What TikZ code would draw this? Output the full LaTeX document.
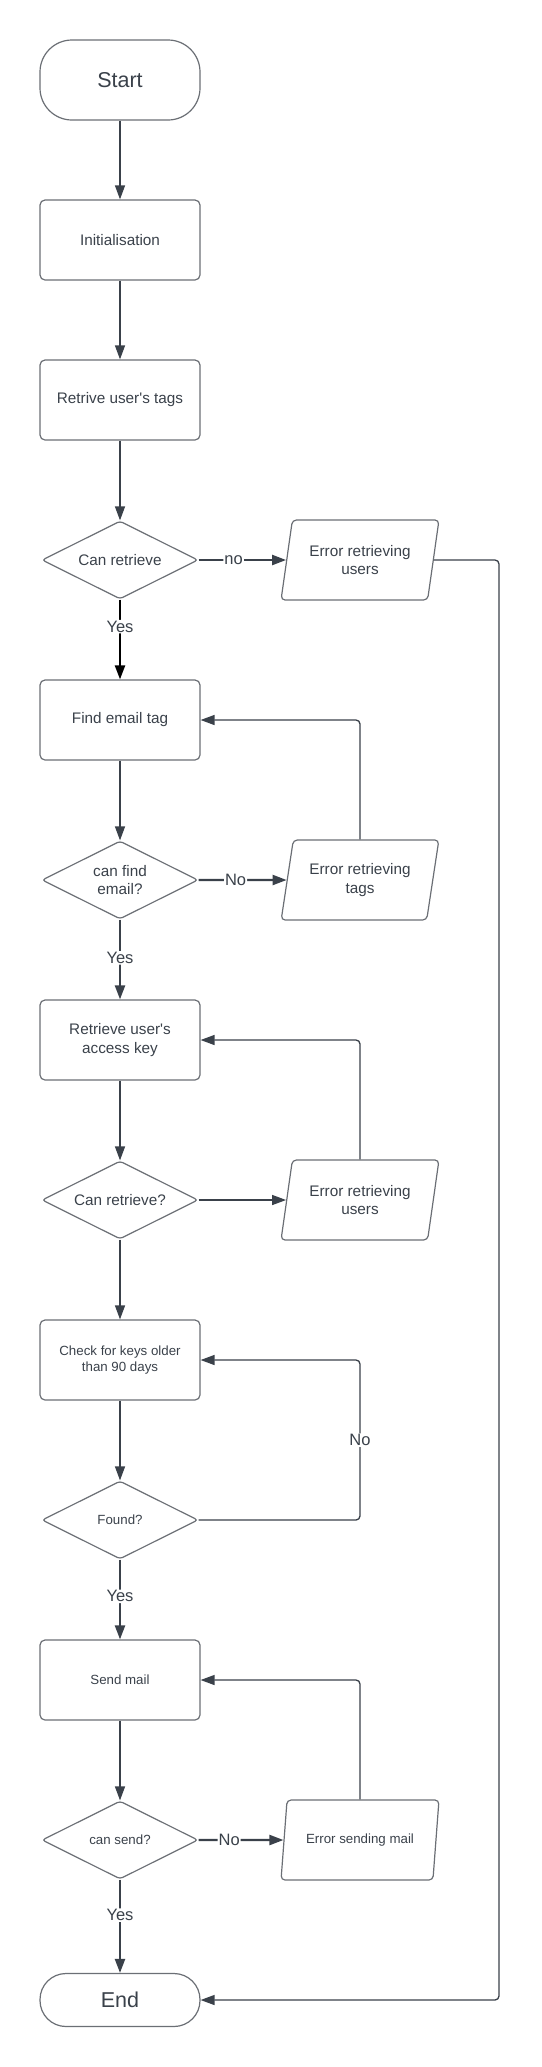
\documentclass[tikz,border=0pt]{standalone}
\usepackage{fontspec}
\setmainfont{Liberation Sans}
\usepackage{tikz}
\usetikzlibrary{shapes.geometric,arrows.meta}
\definecolor{inkgrey}{HTML}{3A414A}
\definecolor{edgegrey}{HTML}{6B6F75}

\begin{document}
\begin{tikzpicture}[x=1pt,y=-1pt,
  every node/.style={text=inkgrey},
  term/.style={shape=rectangle,rounded corners=26pt,draw=edgegrey,line width=1.2pt,minimum width=160pt,minimum height=53pt,font=\fontsize{21.5}{25}\selectfont},
  proc/.style={shape=rectangle,rounded corners=5pt,draw=edgegrey,line width=1.2pt,minimum width=160pt,minimum height=80pt,align=center,font=\fontsize{15.3}{18.5}\selectfont},
  decide/.style={shape=diamond,aspect=2,rounded corners=3pt,draw=edgegrey,line width=1.2pt,minimum width=156pt,minimum height=78pt,inner sep=0pt,align=center,font=\fontsize{15.3}{18.5}\selectfont},
  iobox/.style={shape=trapezium,trapezium left angle=76,trapezium right angle=104,trapezium stretches=true,rounded corners=4pt,draw=edgegrey,line width=1.2pt,minimum width=158pt,minimum height=80pt,align=center,font=\fontsize{15.3}{18.5}\selectfont},
  small/.style={font=\fontsize{13.3}{16.5}\selectfont},
  flow/.style={draw=inkgrey,line width=1.3pt,rounded corners=4pt,-{Triangle[width=10pt,length=14pt]}},
  bold/.style={flow,line width=2.2pt},
  lbl/.style={fill=white,inner sep=1pt,font=\fontsize{16.5}{19}\selectfont}]
\useasboundingbox (0,0) rectangle (541,2067);

%main column
\path (120,80) node (start) [term,minimum height=80pt,rounded corners=32pt] {Start};
\path (120,240) node (init) [proc] {Initialisation};
\path (120,400) node (gettags) [proc] {Retrive user\textquotesingle s tags};
\path (120,560) node (canret) [decide] {Can retrieve};
\path (120,720) node (findtag) [proc] {Find email tag};
\path (120,880) node (canfind) [decide] {can find\\email?};
\path (120,1040) node (getkey) [proc] {Retrieve user\textquotesingle s\\access key};
\path (120,1200) node (canretkey) [decide] {Can retrieve?};
\path (120,1360) node (oldkeys) [proc,small] {Check for keys older\\than 90 days};
\path (120,1520) node (found) [decide,small] {Found?};
\path (120,1680) node (sendmail) [proc,small] {Send mail};
\path (120,1840) node (cansend) [decide,small] {can send?};
\path (120,2000) node (end) [term] {End};

%error column
\path (360,560) node (errusers) [iobox] {Error retrieving\\users};
\path (360,880) node (errtags) [iobox] {Error retrieving\\tags};
\path (360,1200) node (errkey) [iobox] {Error retrieving\\users};
\path (360,1840) node (errmail) [iobox,small] {Error sending mail};

\coordinate (rail) at (499,560);
\coordinate (foundturn) at (360,1520);

\draw [flow] (start) to (init);
\draw [flow] (init) to (gettags);
\draw [flow] (gettags) to (canret);
\draw [bold,draw=black] (canret) to node [lbl,pos=0.34] {Yes} (findtag);
\draw [bold] (canret) to node [lbl,pos=0.4] {no} (errusers);
\draw [flow] (errusers.east) -- (rail) |- (end.east);
\draw [flow] (findtag) to (canfind);
\draw [bold] (canfind) to node [lbl,pos=0.48] {Yes} (getkey);
\draw [bold] (canfind) to node [lbl,pos=0.42] {No} (errtags);
\draw [flow] (errtags.north) |- (findtag.east);
\draw [flow] (getkey) to (canretkey);
\draw [flow] (canretkey) to (errkey);
\draw [flow] (errkey.north) |- (getkey.east);
\draw [flow] (canretkey) to (oldkeys);
\draw [flow] (oldkeys) to (found);
\draw [flow] (found.east) -- (foundturn) |- node [lbl,pos=0.25] {No} (oldkeys.east);
\draw [bold] (found) to node [lbl,pos=0.46] {Yes} (sendmail);
\draw [flow] (sendmail) to (cansend);
\draw [bold] (cansend) to node [lbl,pos=0.36] {No} (errmail);
\draw [flow] (errmail.north) |- (sendmail.east);
\draw [bold] (cansend) to node [lbl,pos=0.38] {Yes} (end);
\end{tikzpicture}
\end{document}
